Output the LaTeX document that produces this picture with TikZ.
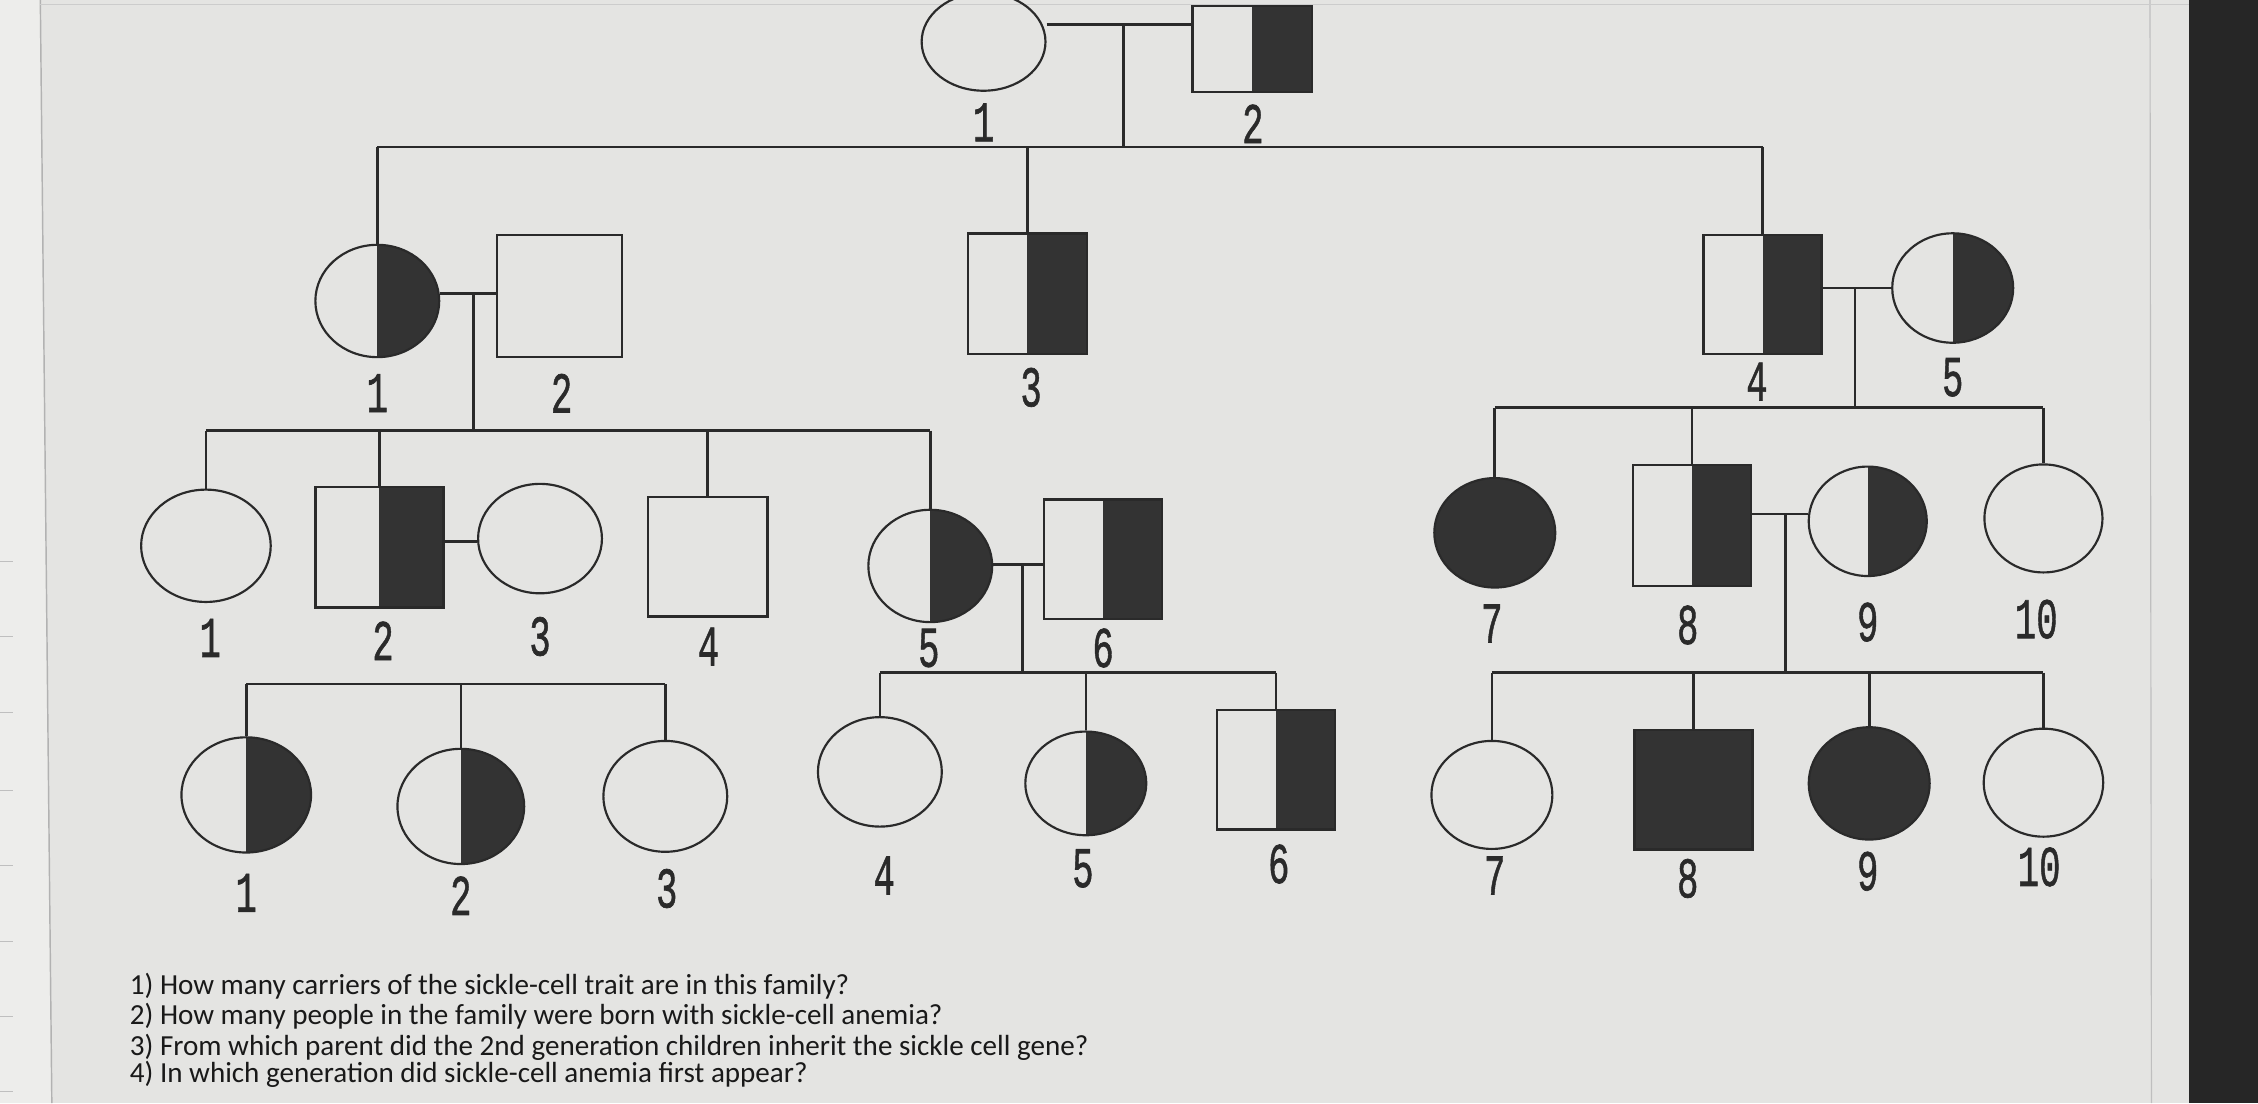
\documentclass[tikz,border=0pt]{standalone}
\usepackage{fontspec}
\setmainfont{Carlito}
\newfontfamily\digfont[FakeBold=1.2]{Liberation Mono}
\usetikzlibrary{shapes.geometric}
\definecolor{bg}{HTML}{E4E4E2}
\definecolor{ink}{HTML}{2A2A2A}
\definecolor{dk}{HTML}{333333}
\definecolor{paper}{HTML}{EDEDEB}
\newcommand\dg[1]{\scalebox{0.62}[1]{#1}}
\tikzset{
  ln/.style={draw=ink, line width=1.8pt},
  fem/.style={ellipse, draw=ink, line width=1.5pt, inner sep=0pt},
  mal/.style={rectangle, draw=ink, line width=1.7pt, inner sep=0pt},
  half/.style={path picture={\fill[dk] (path picture bounding box.north) rectangle (path picture bounding box.south east);}},
  full/.style={fill=dk},
  sz/.style 2 args={minimum width=#1pt, minimum height=#2pt},
  lab/.style={font=\digfont\fontsize{40}{40}\selectfont, text=ink, inner sep=0pt},
  qst/.style={font=\fontsize{20.2}{22}\selectfont, text=black!90, anchor=west, inner sep=0pt}
}
\begin{document}
\begin{tikzpicture}[x=1pt,y=-1pt]
\useasboundingbox (0,0) rectangle (1568,766);
% photo background
\fill[bg] (0,0) rectangle (1568,766);
\fill[paper] (0,0) -- (28,0) -- (36,766) -- (0,766) -- cycle;
\draw[gray!60, line width=1pt] (28,0) -- (36,766);
\draw[gray!50, line width=0.8pt] (1493,0) -- (1494,766);
\draw[gray!40, line width=0.8pt] (28,3) -- (1520,3);
\foreach \yy in {390,442,495,549,601,654,706,758} \draw[gray!50, line width=0.8pt] (0,\yy) -- (9,\yy);
\fill[black!85] (1520,0) rectangle (1568,766);

% Generation I
\node[fem, sz={86}{68}] (i1) at (683,29) {};
\node[mal, half, sz={83}{60}] (i2) at (869.5,34) {};
\node[lab] (li1) at (683,85) {\dg{1}};
\node[lab] (li2) at (870,86) {\dg{2}};
\coordinate (m1) at (780,17);
\coordinate (s1) at (780,102);

% Generation II
\node[fem, half, sz={86}{78}] (ii1) at (262,209) {};
\node[mal, sz={87}{85}] (ii2) at (388.5,205.5) {};
\node[mal, half, sz={83}{84}] (ii3) at (713.5,204) {};
\node[mal, half, sz={82}{83}] (ii4) at (1224,204.5) {};
\node[fem, half, sz={84}{76}] (ii5) at (1356,200) {};
\node[lab] (lii1) at (262,273) {\dg{1}};
\node[lab] (lii2) at (390,273) {\dg{2}};
\node[lab] (lii3) at (716,269) {\dg{3}};
\node[lab] (lii4) at (1220,265) {\dg{4}};
\node[lab] (lii5) at (1356,262) {\dg{5}};
\coordinate (m2) at (329,204);
\coordinate (s2) at (329,299);
\coordinate (m3) at (1288,200);
\coordinate (s3) at (1288,283);

% Generation III
\node[fem, sz={90}{78}] (iii1) at (143,379) {};
\node[mal, half, sz={89}{84}] (iii2) at (263.5,380) {};
\node[fem, sz={86}{76}] (iii3) at (375,374) {};
\node[mal, sz={83}{83}] (iii4) at (491.5,386.5) {};
\node[fem, half, sz={86}{78}] (iii5) at (646,393) {};
\node[mal, half, sz={82}{83}] (iii6) at (766,388.5) {};
\node[fem, full, sz={84}{76}] (iii7) at (1038,370) {};
\node[mal, half, sz={82}{84}] (iii8) at (1175,365) {};
\node[fem, half, sz={82}{76}] (iii9) at (1297,362) {};
\node[fem, sz={82}{75}] (iii10) at (1419,360) {};
\node[lab] (liii1) at (146,443) {\dg{1}};
\node[lab] (liii2) at (266,445) {\dg{2}};
\node[lab] (liii3) at (375,442) {\dg{3}};
\node[lab] (liii4) at (492,449) {\dg{4}};
\node[lab] (liii5) at (645,450) {\dg{5}};
\node[lab] (liii6) at (766,450) {\dg{6}};
\node[lab] (liii7) at (1036,433) {\dg{7}};
\node[lab] (liii8) at (1172,434) {\dg{8}};
\node[lab] (liii9) at (1297,432) {\dg{9}};
\node[lab] (liii10) at (1414,430) {\dg{10}};
\coordinate (m4) at (320,376);
\coordinate (m5) at (710,392);
\coordinate (s5) at (710,467);
\coordinate (m6) at (1240,357);
\coordinate (s6) at (1240,467);
\coordinate (s4) at (320,475);

% Generation IV
\node[fem, half, sz={90}{80}] (iv1) at (171,552) {};
\node[fem, half, sz={88}{80}] (iv2) at (320,560) {};
\node[fem, sz={86}{77}] (iv3) at (462,553) {};
\node[fem, sz={86}{76}] (iv4) at (611,536) {};
\node[fem, half, sz={84}{72}] (iv5) at (754,544) {};
\node[mal, half, sz={82}{83}] (iv6) at (886,534.5) {};
\node[fem, sz={84}{75}] (iv7) at (1036,552) {};
\node[mal, full, sz={82}{83}] (iv8) at (1176,548.5) {};
\node[fem, full, sz={84}{78}] (iv9) at (1298,544) {};
\node[fem, sz={83}{75}] (iv10) at (1419,543.5) {};
\node[lab] (liv1) at (171,620) {\dg{1}};
\node[lab] (liv2) at (320,622) {\dg{2}};
\node[lab] (liv3) at (463,617) {\dg{3}};
\node[lab] (liv4) at (614,608) {\dg{4}};
\node[lab] (liv5) at (752,603) {\dg{5}};
\node[lab] (liv6) at (888,600) {\dg{6}};
\node[lab] (liv7) at (1038,608) {\dg{7}};
\node[lab] (liv8) at (1172,610) {\dg{8}};
\node[lab] (liv9) at (1297,605) {\dg{9}};
\node[lab] (liv10) at (1416,602) {\dg{10}};

% Connectors
\draw[ln] (m1 -| i1.east) -- (m1 -| i2.west);
\draw[ln] (m1) -- (s1);
\draw[ln] (s1 -| ii1) -- (s1 -| ii4);
\draw[ln] (s1 -| ii1) -- (ii1.north);
\draw[ln] (s1 -| ii3) -- (ii3.north);
\draw[ln] (s1 -| ii4) -- (ii4.north);

\draw[ln] (m2 -| ii1.east) -- (m2 -| ii2.west);
\draw[ln] (m2) -- (s2);
\draw[ln] (s2 -| iii1) -- (s2 -| iii5);
\draw[ln] (s2 -| iii1) -- (iii1.north);
\draw[ln] (s2 -| iii2) -- (iii2.north);
\draw[ln] (s2 -| iii4) -- (iii4.north);
\draw[ln] (s2 -| iii5) -- (iii5.north);

\draw[ln] (m3 -| ii4.east) -- (m3 -| ii5.west);
\draw[ln] (m3) -- (s3);
\draw[ln] (s3 -| iii7) -- (s3 -| iii10);
\draw[ln] (s3 -| iii7) -- (iii7.north);
\draw[ln] (s3 -| iii8) -- (iii8.north);
\draw[ln] (s3 -| iii10) -- (iii10.north);

\draw[ln] (m4 -| iii2.east) -- (m4 -| iii3.west);
\draw[ln] (s4 -| iv1) -- (s4 -| iv3);
\draw[ln] (s4 -| iv1) -- (iv1.north);
\draw[ln] (s4 -| iv2) -- (iv2.north);
\draw[ln] (s4 -| iv3) -- (iv3.north);

\draw[ln] (m5 -| iii5.east) -- (m5 -| iii6.west);
\draw[ln] (m5) -- (s5);
\draw[ln] (s5 -| iv4) -- (s5 -| iv6);
\draw[ln] (s5 -| iv4) -- (iv4.north);
\draw[ln] (s5 -| iv5) -- (iv5.north);
\draw[ln] (s5 -| iv6) -- (iv6.north);

\draw[ln] (m6 -| iii8.east) -- (m6 -| iii9.west);
\draw[ln] (m6) -- (s6);
\draw[ln] (s6 -| iv7) -- (s6 -| iv10);
\draw[ln] (s6 -| iv7) -- (iv7.north);
\draw[ln] (s6 -| iv8) -- (iv8.north);
\draw[ln] (s6 -| iv9) -- (iv9.north);
\draw[ln] (s6 -| iv10) -- (iv10.north);

% Questions
\node[qst] (q1) at (90,685) {1) How many carriers of the sickle-cell trait are in this family?};
\node[qst] (q2) at (90,706) {2) How many people in the family were born with sickle-cell anemia?};
\node[qst] (q3) at (90,727) {3) From which parent did the 2nd generation children inherit the sickle cell gene?};
\node[qst] (q4) at (90,746) {4) In which generation did sickle-cell anemia first appear?};
\end{tikzpicture}
\end{document}
